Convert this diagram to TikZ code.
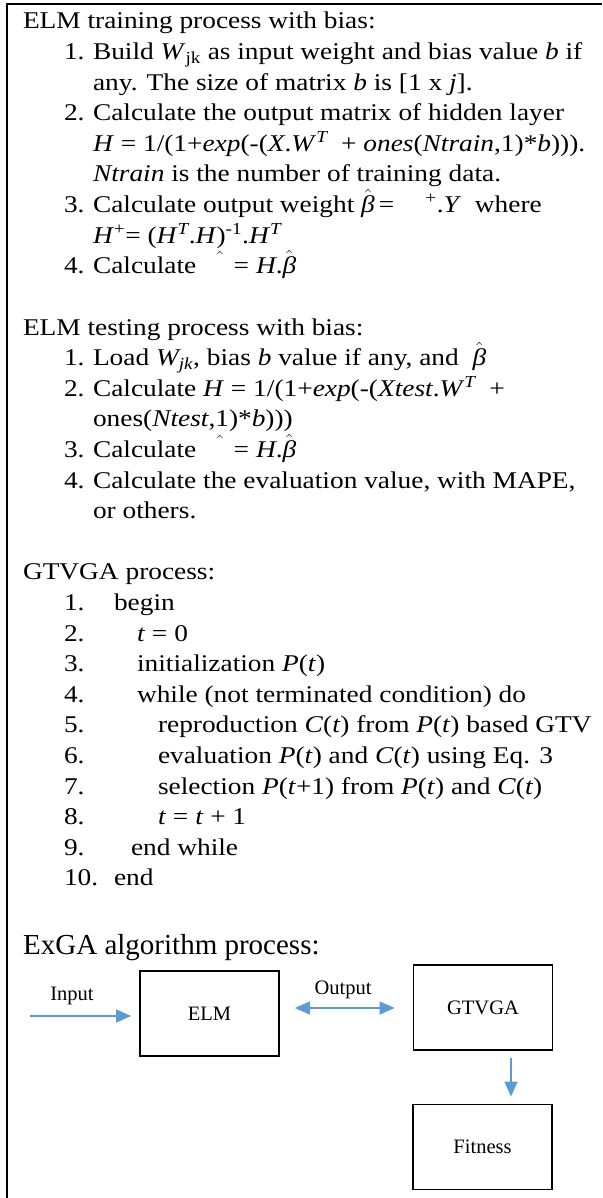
\documentclass[tikz,border=0pt]{standalone}
\usepackage{fontspec}
\setmainfont[FakeStretch=1.14]{Liberation Serif}
\newfontfamily\diagfont{Liberation Serif}
\usetikzlibrary{arrows.meta}
\newcommand{\bh}{\smash{\ensuremath{\hat{\hbox{\itshape β}}}}}
\newcommand{\hh}{\smash{\ensuremath{\hat{\phantom{\hbox{Y}}}}}}
\newcommand{\supT}{\textsuperscript{\itshape T}}
\definecolor{arrowblue}{HTML}{5B9BD5}
\begin{document}
\begin{tikzpicture}[x=1pt,y=-1pt,
  txt/.style={anchor=base west,inner sep=0pt,outer sep=0pt,font=\fontsize{24}{30.6}\selectfont},
  hdr/.style={anchor=base west,inner sep=0pt,font=\diagfont\fontsize{29}{34}\selectfont},
  box/.style={draw=black,line width=1.8pt,minimum width=139pt,minimum height=85pt,inner sep=0pt,font=\diagfont\fontsize{20.5}{24}\selectfont},
  lbl/.style={inner sep=0pt,font=\diagfont\fontsize{20.5}{24}\selectfont},
  barrow/.style={draw=arrowblue,line width=1.3pt,-{Triangle[length=15pt,width=13pt]}},
  dbarrow/.style={draw=arrowblue,line width=1.3pt,{Triangle[length=15pt,width=13pt]}-{Triangle[length=15pt,width=13pt]}},
  frame/.style={draw=black,line width=2pt}
]
\useasboundingbox (0,0) rectangle (602,1198);
\fill[white] (0,0) rectangle (602,1198);
\coordinate (tr) at (602,4);
\coordinate (tl) at (7,4);
\coordinate (bl) at (7,1198);
\draw[frame] (tr) -- (tl) -- (bl);

% ---- ELM training
\def\nx{64}\def\tx{93}
\node[txt] (h1) at (23,29) {ELM training process with bias:};
\node[txt] (a1n) at (\nx,59.6) {1.};
\node[txt] (a1) at (\tx,59.6) {Build \textit{W}\textsubscript{jk} as input weight and bias value \textit{b} if};
\node[txt] (a1b) at (\tx,90.2) {any. The size of matrix \textit{b} is [1 x \textit{j}].};
\node[txt] (a2n) at (\nx,120.8) {2.};
\node[txt] (a2) at (\tx,120.8) {Calculate the output matrix of hidden layer};
\node[txt] (a2b) at (\tx,151.4) {\textit{H} = 1/(1+\textit{exp}(-(\textit{X}.\textit{W}\supT\ \ + \textit{ones}(\textit{Ntrain},1)*\textit{b}))).};
\node[txt] (a2c) at (\tx,182) {\textit{Ntrain} is the number of training data.};
\node[txt] (a3n) at (\nx,212.6) {3.};
\node[txt] (a3) at (\tx,212.6) {Calculate output weight \bh\,=\hspace{1.3em}\textsuperscript{+}.\textit{Y}\ \ where};
\node[txt] (a3b) at (\tx,243.2) {\textit{H}\textsuperscript{+}= (\textit{H}\supT.\textit{H})\textsuperscript{-1}.\textit{H}\supT};
\node[txt] (a4n) at (\nx,273.8) {4.};
\node[txt] (a4) at (\tx,273.8) {Calculate \ \hh\,= \textit{H}.\bh};

% ---- ELM testing
\node[txt] (h2) at (23,335) {ELM testing process with bias:};
\node[txt] (b1n) at (\nx,365.6) {1.};
\node[txt] (b1) at (\tx,365.6) {Load \textit{W\textsubscript{jk}}, bias \textit{b} value if any, and \ \bh};
\node[txt] (b2n) at (\nx,396.2) {2.};
\node[txt] (b2) at (\tx,396.2) {Calculate \textit{H} = 1/(1+\textit{exp}(-(\textit{Xtest}.\textit{W}\supT\ \ +};
\node[txt] (b2b) at (\tx,426.8) {ones(\textit{Ntest},1)*\textit{b})))};
\node[txt] (b3n) at (\nx,457.4) {3.};
\node[txt] (b3) at (\tx,457.4) {Calculate \ \hh\,= \textit{H}.\bh};
\node[txt] (b4n) at (\nx,488) {4.};
\node[txt] (b4) at (\tx,488) {Calculate the evaluation value, with MAPE,};
\node[txt] (b4b) at (\tx,518.6) {or others.};

% ---- GTVGA
\def\la{114}\def\lb{137}\def\lc{158}\def\ld{131}
\node[txt] (h3) at (23,579.8) {GTVGA process:};
\node[txt] (c1n) at (\nx,610.4) {1.};
\node[txt] (c1) at (\la,610.4) {begin};
\node[txt] (c2n) at (\nx,641) {2.};
\node[txt] (c2) at (\lb,641) {\textit{t} = 0};
\node[txt] (c3n) at (\nx,671.6) {3.};
\node[txt] (c3) at (\lb,671.6) {initialization \textit{P}(\textit{t})};
\node[txt] (c4n) at (\nx,702.2) {4.};
\node[txt] (c4) at (\lb,702.2) {while (not terminated condition) do};
\node[txt] (c5n) at (\nx,732.8) {5.};
\node[txt] (c5) at (\lc,732.8) {reproduction \textit{C}(\textit{t}) from \textit{P}(\textit{t}) based GTV};
\node[txt] (c6n) at (\nx,763.4) {6.};
\node[txt] (c6) at (\lc,763.4) {evaluation \textit{P}(\textit{t}) and \textit{C}(\textit{t}) using Eq. 3};
\node[txt] (c7n) at (\nx,794) {7.};
\node[txt] (c7) at (\lc,794) {selection \textit{P}(\textit{t}+1) from \textit{P}(\textit{t}) and \textit{C}(\textit{t})};
\node[txt] (c8n) at (\nx,824.6) {8.};
\node[txt] (c8) at (\lc,824.6) {\textit{t} = \textit{t} + 1};
\node[txt] (c9n) at (\nx,855.2) {9.};
\node[txt] (c9) at (\ld,855.2) {end while};
\node[txt] (c10n) at (\nx,885.8) {10.};
\node[txt] (c10) at (\la,885.8) {end};

% ---- ExGA diagram
\node[hdr] (h4) at (23,954) {ExGA algorithm process:};
\node[box] (elm) at (209.5,1013.5) {ELM};
\node[box] (gtv) at (483,1007.5) {GTVGA};
\node[box] (fit) at (482.5,1147) {Fitness};
\node[lbl] (inl) at (72,996) {Input};
\node[lbl] (outl) at (343,990) {Output};
\coordinate (in) at (30,1016);
\draw[barrow,shorten >=8pt] (in) -- (elm.west |- in);
\coordinate (dl) at (elm.east |- 0,1008);
\coordinate (dr) at (gtv.west |- 0,1008);
\draw[dbarrow,shorten <=15pt,shorten >=18pt] (dl) -- (dr);
\coordinate (gd) at (511,0);
\draw[barrow,shorten <=7pt,shorten >=7pt] (gtv.south -| gd) -- (fit.north -| gd);
\end{tikzpicture}
\end{document}
